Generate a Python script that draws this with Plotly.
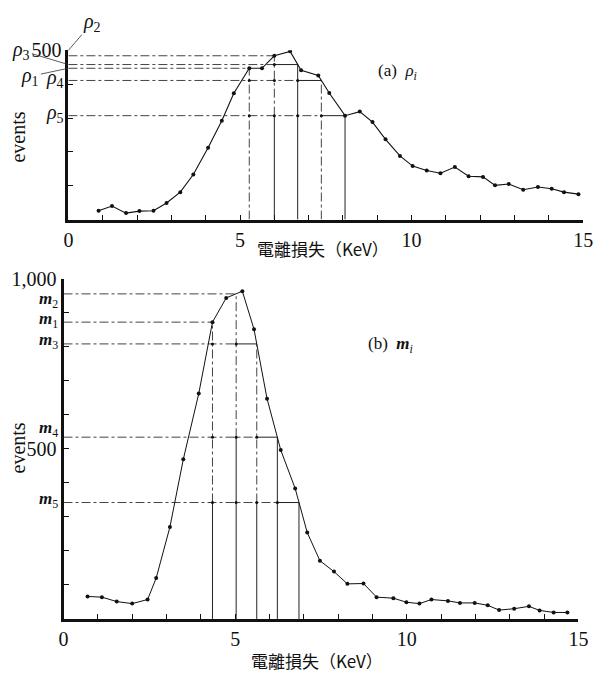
import plotly.graph_objects as go

# ---------------- data ----------------
# (a) rho_i panel
rho_energy = [0.88, 1.27, 1.68, 2.07, 2.48, 2.86, 3.26, 3.64, 4.07, 4.47, 4.82, 5.27,
              5.64, 6.00, 6.46, 6.78, 7.28, 7.60, 8.06, 8.49, 8.86, 9.24, 9.66, 10.03,
              10.44, 10.84, 11.26, 11.66, 12.08, 12.43, 12.83, 13.25, 13.68, 14.08, 14.44, 14.86]
rho_events = [26, 40, 19, 25, 26, 49, 81, 133, 212, 292, 373, 447,
              447, 484, 497, 441, 426, 374, 307, 319, 288, 237, 188, 158,
              145, 137, 155, 128, 126, 101, 105, 88, 96, 91, 81, 75]
rho_x = [5.27, 6.00, 6.68, 7.37, 8.06]
rho_level = [447, 484, 458, 411, 307]
rho_idx = ["1", "2", "3", "4", "5"]

# (b) m_i panel
m_energy = [0.70, 1.12, 1.55, 2.00, 2.45, 2.70, 3.10, 3.49, 3.94, 4.34, 4.74, 5.21,
            5.55, 5.93, 6.33, 6.75, 7.10, 7.47, 7.88, 8.27, 8.74, 9.12, 9.61, 9.99,
            10.37, 10.72, 11.20, 11.55, 11.98, 12.36, 12.69, 13.13, 13.56, 13.87, 14.28, 14.68]
m_events = [66, 64, 51, 45, 57, 120, 270, 469, 662, 872, 943, 963,
            851, 647, 496, 383, 254, 171, 139, 103, 104, 64, 61, 49,
            45, 57, 53, 47, 47, 40, 26, 30, 37, 25, 19, 19]
m_x = [4.34, 5.03, 5.63, 6.23, 6.86]
m_level = [872, 955, 808, 534, 342]
m_idx = ["1", "2", "3", "4", "5"]

x_tick_vals = list(range(0, 16))
x_tick_text = ["0", "", "", "", "", "5", "", "", "", "", "10", "", "", "", "", "15"]
top_y_ticks = [100, 200, 300, 400, 500]
top_y_text = ["", "", "", "", "500"]
bot_y_ticks = [100, 200, 300, 400, 500, 600, 700, 800, 900, 1000]
bot_y_text = ["", "", "", "", "500", "", "", "", "", "1,000"]

# --------------- styling -----------------
W, H = 603, 675
SERIF = "Liberation Serif, Times New Roman, serif"
CJK = "Noto Sans CJK TC, Liberation Serif, serif"
INK = "#111111"

fig = go.Figure()


def px(x):
    return x / W


def py(y):
    return 1 - y / H


def seg(xa, ya, xs, ys, dash, width=1.0, color="#222222"):
    fig.add_trace(go.Scatter(x=xs, y=ys, mode="lines", xaxis=xa, yaxis=ya,
                             line=dict(color=color, width=width, dash=dash),
                             hoverinfo="skip", showlegend=False))


def guides(xa, ya, xs, levels, solid_below):
    # vertical drop lines (solid low part, dash-dot upper part)
    for x, lv, sb in zip(xs, levels, solid_below):
        sb = min(sb, lv)
        if sb > 0:
            seg(xa, ya, [x, x], [0, sb], "solid")
        if sb < lv:
            seg(xa, ya, [x, x], [sb, lv], "dashdot", color="#444444")
    # horizontal lines from the axis to the curve, dots at crossings
    dots_x, dots_y = [], []
    for xe, lv in zip(xs, levels):
        left = [x for x, l2 in zip(xs, levels) if x < xe and l2 >= lv]
        xs_solid = max(left) if left else xe
        seg(xa, ya, [0, xs_solid], [lv, lv], "dashdot", color="#444444")
        if xs_solid < xe:
            seg(xa, ya, [xs_solid, xe], [lv, lv], "solid")
        for x in left:
            dots_x.append(x)
            dots_y.append(lv)
    fig.add_trace(go.Scatter(x=dots_x, y=dots_y, mode="markers", xaxis=xa, yaxis=ya,
                             marker=dict(size=3, color=INK), hoverinfo="skip",
                             showlegend=False))


guides("x", "y", rho_x, rho_level, [0, rho_level[4], 10000, 0, 10000])
guides("x2", "y2", m_x, m_level, [m_level[4], m_level[3], m_level[4], 10000, 10000])

fig.add_trace(go.Scatter(x=rho_energy, y=rho_events, mode="lines+markers",
                         xaxis="x", yaxis="y",
                         line=dict(color=INK, width=1.1),
                         marker=dict(size=4, color=INK), showlegend=False))
fig.add_trace(go.Scatter(x=m_energy, y=m_events, mode="lines+markers",
                         xaxis="x2", yaxis="y2",
                         line=dict(color=INK, width=1.0),
                         marker=dict(size=4, color=INK), showlegend=False))

axis_common = dict(showgrid=False, zeroline=False, showline=True, linecolor=INK,
                   linewidth=3, ticks="inside", ticklen=5, tickwidth=1, tickcolor=INK,
                   tickfont=dict(family=SERIF, size=20, color=INK))

fig.update_layout(
    width=W, height=H,
    margin=dict(l=0, r=0, t=0, b=0),
    paper_bgcolor="white", plot_bgcolor="white",
    showlegend=False,
    xaxis=dict(domain=[px(65), px(593)], range=[0, 15], anchor="y",
               tickvals=x_tick_vals, ticktext=x_tick_text, **axis_common),
    yaxis=dict(domain=[py(212), py(40)], range=[0, 500], anchor="x",
               tickvals=top_y_ticks, ticktext=top_y_text, **axis_common),
    xaxis2=dict(domain=[px(60), px(588)], range=[0, 15], anchor="y2",
                tickvals=x_tick_vals, ticktext=x_tick_text, **axis_common),
    yaxis2=dict(domain=[py(618), py(272)], range=[0, 1000], anchor="x2",
                tickvals=bot_y_ticks, ticktext=bot_y_text, **axis_common),
)


def note(text, x, y, size, family=SERIF, angle=0):
    return dict(text=text, x=px(x), y=py(y), xref="paper", yref="paper",
                xanchor="center", yanchor="middle", textangle=angle,
                showarrow=False, font=dict(family=family, size=size, color=INK))


ann = []
ann.append(note("電離損失（KeV）", 326, 241, 17, CJK))
ann.append(note("電離損失（KeV）", 320, 660, 17, CJK))
ann.append(note("events", 13, 128, 20, angle=-90))
ann.append(note("events", 13, 444, 20, angle=-90))
ann.append(note("(a)  <i>ρ</i><sub><i>i</i></sub>", 403, 62, 17))
ann.append(note("(b)  <b><i>m</i></b><sub><i>i</i></sub>", 395, 340, 17))

rho_label_offsets = {"1": (-38, 8), "2": (24, -28), "3": (-47, -14), "4": None, "5": None}
for name, lv in zip(rho_idx, rho_level):
    txt = "<i>ρ</i><sub>%s</sub>" % name
    off = rho_label_offsets[name]
    if off is None:
        ann.append(dict(text=txt, x=0, y=lv, xref="x", yref="y", xanchor="right",
                        yanchor="middle", xshift=-2, yshift=2, showarrow=False,
                        font=dict(family=SERIF, size=20, color=INK)))
    else:
        ytip = 500 if name == "2" else lv
        ann.append(dict(text=txt, x=0, y=ytip, xref="x", yref="y", ax=off[0], ay=off[1],
                        showarrow=True, arrowhead=0, arrowwidth=0.8, arrowcolor="#333333",
                        standoff=0, font=dict(family=SERIF, size=20, color=INK)))

m_label_shift = {"1": 2, "2": -6, "3": 3, "4": 8, "5": 3}
for name, lv in zip(m_idx, m_level):
    ann.append(dict(text="<b><i>m</i></b><sub>%s</sub>" % name, x=0, y=lv, xref="x2", yref="y2",
                    xanchor="right", yanchor="middle", xshift=-4, yshift=m_label_shift[name],
                    showarrow=False, font=dict(family=SERIF, size=17, color=INK)))

fig.update_layout(annotations=ann)
fig.write_html("out.html")
